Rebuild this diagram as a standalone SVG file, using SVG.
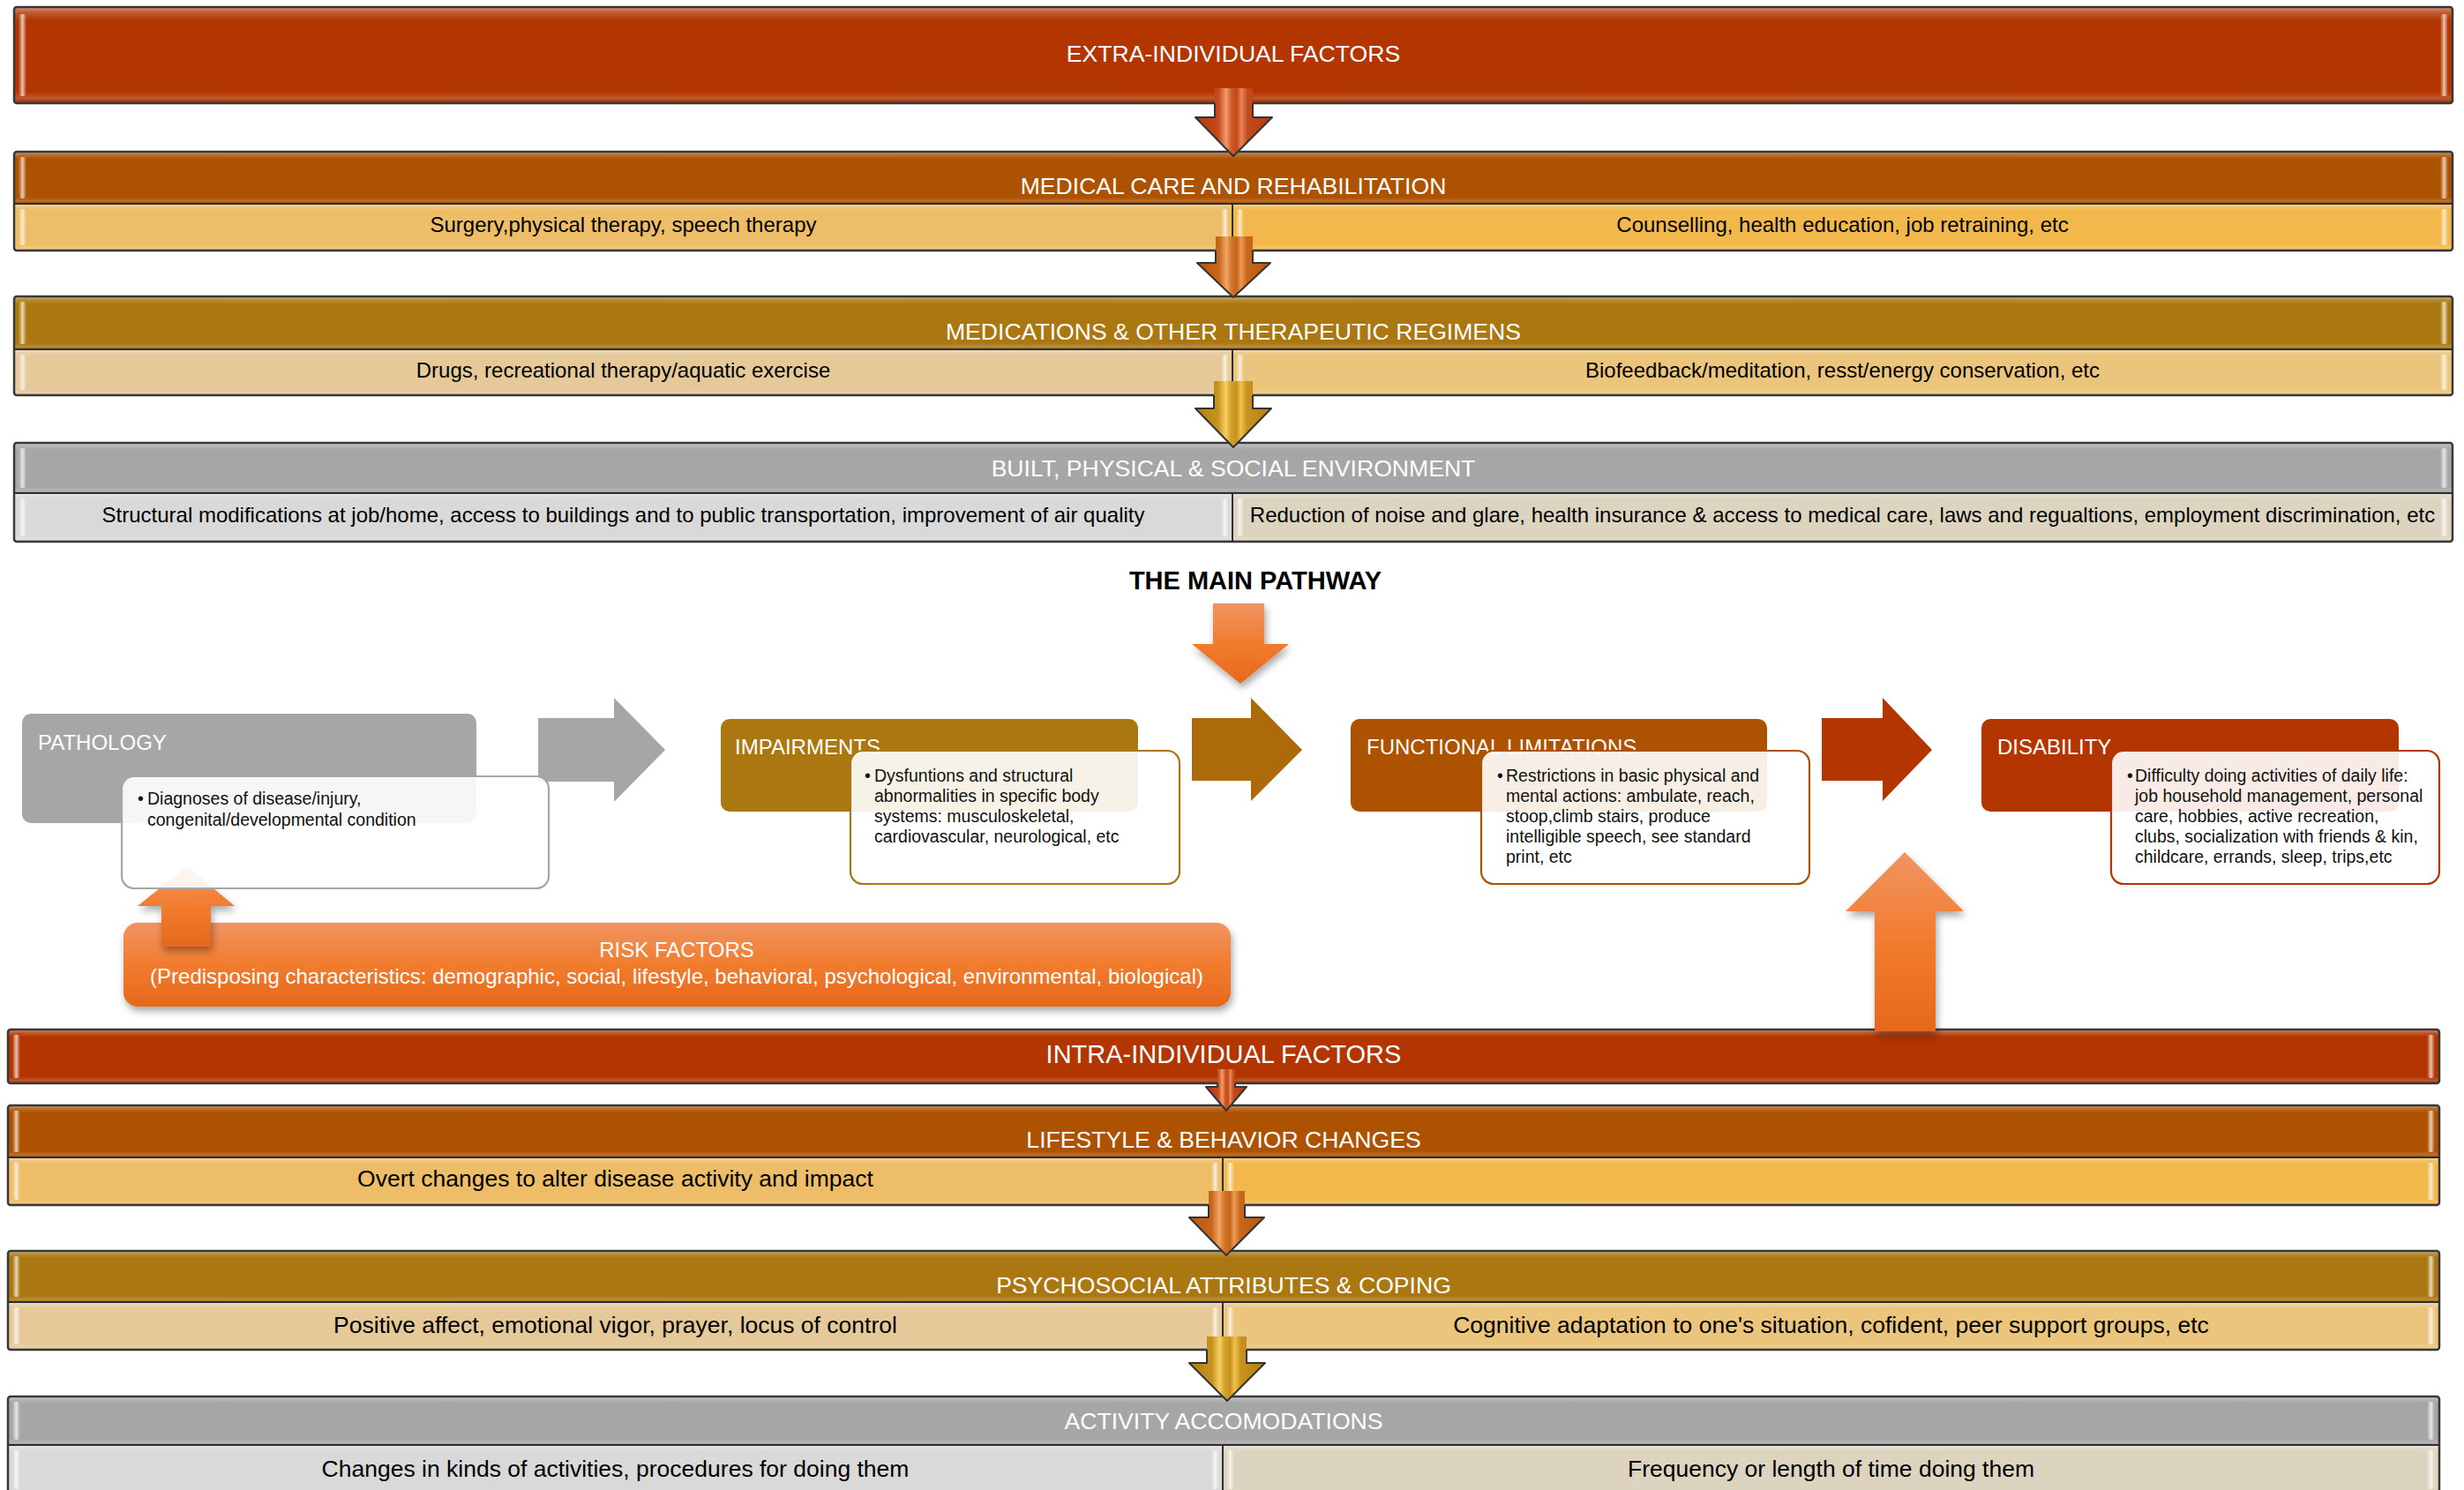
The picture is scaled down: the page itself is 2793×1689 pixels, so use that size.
<svg xmlns="http://www.w3.org/2000/svg" width="2793" height="1689" viewBox="0 0 2793 1689">
<defs>
<style>
.hdr{font-family:"Liberation Sans",Arial,sans-serif;fill:#fff;text-anchor:middle;font-size:26.6px}
.sub{font-family:"Liberation Sans",Arial,sans-serif;fill:#000;text-anchor:middle;font-size:24px}
.subB{font-family:"Liberation Sans",Arial,sans-serif;fill:#000;text-anchor:middle;font-size:26.5px}
.frame{fill:none;stroke:#383838;stroke-width:2.5}
.sep{stroke:#2e2e2e;stroke-width:2;fill:none}
.gl{fill:url(#gloss)}
.edge{fill:url(#edgeG)}
.lbl{font-family:"Liberation Sans",Arial,sans-serif;fill:#fff;font-size:24px}
.det{font-family:"Liberation Sans",Arial,sans-serif;fill:#111;font-size:19.5px}
.detbox{fill:#fff;fill-opacity:0.9;stroke-width:2.2}
.arrowline{fill:none;stroke:#333;stroke-width:2;stroke-linejoin:round}
.risk{font-family:"Liberation Sans",Arial,sans-serif;fill:#fff;text-anchor:middle;font-size:24px}
</style>
<linearGradient id="gloss" x1="0" y1="0" x2="0" y2="1">
<stop offset="0" stop-color="#fff" stop-opacity="0.45"/>
<stop offset="0.06" stop-color="#fff" stop-opacity="0.18"/>
<stop offset="0.14" stop-color="#fff" stop-opacity="0"/>
<stop offset="0.88" stop-color="#fff" stop-opacity="0"/>
<stop offset="0.95" stop-color="#fff" stop-opacity="0.18"/>
<stop offset="1" stop-color="#000" stop-opacity="0.15"/>
</linearGradient>
<linearGradient id="edgeG" x1="0" y1="0" x2="1" y2="0">
<stop offset="0" stop-color="#fff" stop-opacity="0"/>
<stop offset="0.5" stop-color="#fff" stop-opacity="0.7"/>
<stop offset="1" stop-color="#fff" stop-opacity="0"/>
</linearGradient>
<linearGradient id="arRed" x1="0" y1="0" x2="1" y2="0">
<stop offset="0" stop-color="#B23A10"/>
<stop offset="0.3" stop-color="#C44A1A"/>
<stop offset="0.4" stop-color="#F09A70"/>
<stop offset="0.47" stop-color="#D05A28"/>
<stop offset="0.54" stop-color="#C4481A"/>
<stop offset="0.6" stop-color="#E8875A"/>
<stop offset="0.68" stop-color="#C24A1C"/>
<stop offset="1" stop-color="#B23A10"/>
</linearGradient>
<linearGradient id="arOr" x1="0" y1="0" x2="1" y2="0">
<stop offset="0" stop-color="#B8560E"/>
<stop offset="0.3" stop-color="#C8661A"/>
<stop offset="0.4" stop-color="#F2A766"/>
<stop offset="0.47" stop-color="#D2752A"/>
<stop offset="0.54" stop-color="#C6651A"/>
<stop offset="0.6" stop-color="#EC9A55"/>
<stop offset="0.68" stop-color="#C8661A"/>
<stop offset="1" stop-color="#B8560E"/>
</linearGradient>
<linearGradient id="arGd" x1="0" y1="0" x2="1" y2="0">
<stop offset="0" stop-color="#B07E12"/>
<stop offset="0.3" stop-color="#C8921E"/>
<stop offset="0.4" stop-color="#F6D060"/>
<stop offset="0.47" stop-color="#D49F2A"/>
<stop offset="0.54" stop-color="#C8921E"/>
<stop offset="0.6" stop-color="#F0C24E"/>
<stop offset="0.68" stop-color="#C8921E"/>
<stop offset="1" stop-color="#B07E12"/>
</linearGradient>
<linearGradient id="orV" x1="0" y1="0" x2="0" y2="1">
<stop offset="0" stop-color="#F09462"/>
<stop offset="0.5" stop-color="#F27C2E"/>
<stop offset="1" stop-color="#E6681C"/>
</linearGradient>
<filter id="sh" x="-20%" y="-20%" width="140%" height="150%">
<feDropShadow dx="2" dy="5" stdDeviation="4" flood-color="#000" flood-opacity="0.35"/>
</filter>
</defs>
<rect width="2793" height="1689" fill="#fff"/>

<!-- ===== TOP BARS ===== -->
<g id="extra-individual">
<rect x="16" y="8" width="2764" height="109" fill="#B33500"/>
<rect x="16" y="8" width="2764" height="109" class="gl"/>
<rect x="21" y="16" width="9" height="93" rx="4" class="edge"/>
<rect x="2766" y="16" width="9" height="93" rx="4" class="edge"/>
<rect x="16" y="8" width="2764" height="109" rx="3" class="frame"/>
<text class="hdr" x="1398" y="70">EXTRA-INDIVIDUAL FACTORS</text>
</g>

<g id="medical-care">
<rect x="16" y="172" width="2764" height="59" fill="#AD5200"/>
<rect x="16" y="231" width="1381" height="53" fill="#EEBD67"/>
<rect x="1397" y="231" width="1383" height="53" fill="#F2B84B"/>
<rect x="16" y="172" width="2764" height="59" class="gl"/>
<rect x="16" y="231" width="1381" height="53" class="gl"/>
<rect x="1397" y="231" width="1383" height="53" class="gl"/>
<rect x="21" y="178" width="9" height="47" rx="4" class="edge"/>
<rect x="2766" y="178" width="9" height="47" rx="4" class="edge"/>
<rect x="21" y="237" width="9" height="41" rx="4" class="edge"/>
<rect x="1384" y="237" width="9" height="41" rx="4" class="edge"/>
<rect x="1401" y="237" width="9" height="41" rx="4" class="edge"/>
<rect x="2766" y="237" width="9" height="41" rx="4" class="edge"/>
<rect x="16" y="172" width="2764" height="112" rx="3" class="frame"/>
<path class="sep" d="M16 231H2780M1397 231V284"/>
<text class="hdr" x="1398" y="220">MEDICAL CARE AND REHABILITATION</text>
<text class="sub" x="706.5" y="263">Surgery,physical therapy, speech therapy</text>
<text class="sub" x="2088.5" y="263">Counselling, health education, job retraining, etc</text>
</g>

<g id="medications">
<rect x="16" y="336" width="2764" height="60" fill="#AB7710"/>
<rect x="16" y="396" width="1381" height="52" fill="#E5C998"/>
<rect x="1397" y="396" width="1383" height="52" fill="#EBC57C"/>
<rect x="16" y="336" width="2764" height="60" class="gl"/>
<rect x="16" y="396" width="1381" height="52" class="gl"/>
<rect x="1397" y="396" width="1383" height="52" class="gl"/>
<rect x="21" y="342" width="9" height="48" rx="4" class="edge"/>
<rect x="2766" y="342" width="9" height="48" rx="4" class="edge"/>
<rect x="21" y="402" width="9" height="40" rx="4" class="edge"/>
<rect x="1384" y="402" width="9" height="40" rx="4" class="edge"/>
<rect x="1401" y="402" width="9" height="40" rx="4" class="edge"/>
<rect x="2766" y="402" width="9" height="40" rx="4" class="edge"/>
<rect x="16" y="336" width="2764" height="112" rx="3" class="frame"/>
<path class="sep" d="M16 396H2780M1397 396V448"/>
<text class="hdr" x="1398" y="385">MEDICATIONS &amp; OTHER THERAPEUTIC REGIMENS</text>
<text class="sub" x="706.5" y="428">Drugs, recreational therapy/aquatic exercise</text>
<text class="sub" x="2088.5" y="428">Biofeedback/meditation, resst/energy conservation, etc</text>
</g>

<g id="built-environment">
<rect x="16" y="502" width="2764" height="57" fill="#A6A6A6"/>
<rect x="16" y="559" width="1381" height="55" fill="#D9D9D9"/>
<rect x="1397" y="559" width="1383" height="55" fill="#DDD4C0"/>
<rect x="16" y="502" width="2764" height="57" class="gl"/>
<rect x="16" y="559" width="1381" height="55" class="gl"/>
<rect x="1397" y="559" width="1383" height="55" class="gl"/>
<rect x="21" y="508" width="9" height="45" rx="4" class="edge"/>
<rect x="2766" y="508" width="9" height="45" rx="4" class="edge"/>
<rect x="21" y="565" width="9" height="43" rx="4" class="edge"/>
<rect x="1384" y="565" width="9" height="43" rx="4" class="edge"/>
<rect x="1401" y="565" width="9" height="43" rx="4" class="edge"/>
<rect x="2766" y="565" width="9" height="43" rx="4" class="edge"/>
<rect x="16" y="502" width="2764" height="112" rx="3" class="frame"/>
<path class="sep" d="M16 559H2780M1397 559V614"/>
<text class="hdr" x="1398" y="540">BUILT, PHYSICAL &amp; SOCIAL ENVIRONMENT</text>
<text class="sub" x="706.5" y="592">Structural modifications at job/home, access to buildings and to public transportation, improvement of air quality</text>
<text class="sub" x="2088.5" y="592">Reduction of noise and glare, health insurance &amp; access to medical care, laws and regualtions, employment discrimination, etc</text>
</g>

<!-- ===== BOTTOM BARS ===== -->
<g id="intra-individual">
<rect x="9" y="1167" width="2756" height="61" fill="#B33500"/>
<rect x="9" y="1167" width="2756" height="61" class="gl"/>
<rect x="14" y="1173" width="9" height="49" rx="4" class="edge"/>
<rect x="2751" y="1173" width="9" height="49" rx="4" class="edge"/>
<rect x="9" y="1167" width="2756" height="61" rx="3" class="frame"/>
<text class="hdr" x="1387" y="1205" style="font-size:29px">INTRA-INDIVIDUAL FACTORS</text>
</g>

<g id="lifestyle">
<rect x="9" y="1253" width="2756" height="59" fill="#AD5200"/>
<rect x="9" y="1312" width="1377" height="54" fill="#EEBD67"/>
<rect x="1386" y="1312" width="1379" height="54" fill="#F2B84B"/>
<rect x="9" y="1253" width="2756" height="59" class="gl"/>
<rect x="9" y="1312" width="1377" height="54" class="gl"/>
<rect x="1386" y="1312" width="1379" height="54" class="gl"/>
<rect x="14" y="1259" width="9" height="47" rx="4" class="edge"/>
<rect x="2751" y="1259" width="9" height="47" rx="4" class="edge"/>
<rect x="14" y="1318" width="9" height="42" rx="4" class="edge"/>
<rect x="1373" y="1318" width="9" height="42" rx="4" class="edge"/>
<rect x="1390" y="1318" width="9" height="42" rx="4" class="edge"/>
<rect x="2751" y="1318" width="9" height="42" rx="4" class="edge"/>
<rect x="9" y="1253" width="2756" height="113" rx="3" class="frame"/>
<path class="sep" d="M9 1312H2765M1386 1312V1366"/>
<text class="hdr" x="1387" y="1301">LIFESTYLE &amp; BEHAVIOR CHANGES</text>
<text class="subB" x="697.5" y="1345">Overt changes to alter disease activity and impact</text>
</g>

<g id="psychosocial">
<rect x="9" y="1418" width="2756" height="58" fill="#AB7710"/>
<rect x="9" y="1476" width="1377" height="54" fill="#E5C998"/>
<rect x="1386" y="1476" width="1379" height="54" fill="#EBC57C"/>
<rect x="9" y="1418" width="2756" height="58" class="gl"/>
<rect x="9" y="1476" width="1377" height="54" class="gl"/>
<rect x="1386" y="1476" width="1379" height="54" class="gl"/>
<rect x="14" y="1424" width="9" height="46" rx="4" class="edge"/>
<rect x="2751" y="1424" width="9" height="46" rx="4" class="edge"/>
<rect x="14" y="1482" width="9" height="42" rx="4" class="edge"/>
<rect x="1373" y="1482" width="9" height="42" rx="4" class="edge"/>
<rect x="1390" y="1482" width="9" height="42" rx="4" class="edge"/>
<rect x="2751" y="1482" width="9" height="42" rx="4" class="edge"/>
<rect x="9" y="1418" width="2756" height="112" rx="3" class="frame"/>
<path class="sep" d="M9 1476H2765M1386 1476V1530"/>
<text class="hdr" x="1387" y="1466">PSYCHOSOCIAL ATTRIBUTES &amp; COPING</text>
<text class="subB" x="697.5" y="1511">Positive affect, emotional vigor, prayer, locus of control</text>
<text class="subB" x="2075.5" y="1511">Cognitive adaptation to one's situation, cofident, peer support groups, etc</text>
</g>

<g id="activity-accomodations">
<rect x="9" y="1583" width="2756" height="55" fill="#A6A6A6"/>
<rect x="9" y="1638" width="1377" height="62" fill="#D9D9D9"/>
<rect x="1386" y="1638" width="1379" height="62" fill="#DDD4C0"/>
<rect x="9" y="1583" width="2756" height="55" class="gl"/>
<rect x="9" y="1638" width="1377" height="62" class="gl"/>
<rect x="1386" y="1638" width="1379" height="62" class="gl"/>
<rect x="14" y="1589" width="9" height="43" rx="4" class="edge"/>
<rect x="2751" y="1589" width="9" height="43" rx="4" class="edge"/>
<rect x="14" y="1644" width="9" height="44" rx="4" class="edge"/>
<rect x="1373" y="1644" width="9" height="44" rx="4" class="edge"/>
<rect x="1390" y="1644" width="9" height="44" rx="4" class="edge"/>
<rect x="2751" y="1644" width="9" height="44" rx="4" class="edge"/>
<rect x="9" y="1583" width="2756" height="117" rx="3" class="frame"/>
<path class="sep" d="M9 1638H2765M1386 1638V1700"/>
<text class="hdr" x="1387" y="1620">ACTIVITY ACCOMODATIONS</text>
<text class="subB" x="697.5" y="1674">Changes in kinds of activities, procedures for doing them</text>
<text class="subB" x="2075.5" y="1674">Frequency or length of time doing them</text>
</g>

<!-- ===== MAIN PATHWAY ===== -->
<text id="main-pathway-title" x="1423" y="668" text-anchor="middle" style="font-family:'Liberation Sans',Arial,sans-serif;font-weight:bold;font-size:29px;fill:#000">THE MAIN PATHWAY</text>

<g id="risk-factors">
<rect x="140" y="1046" width="1255" height="95" rx="16" fill="url(#orV)" filter="url(#sh)"/>
<text class="risk" x="767" y="1085">RISK FACTORS</text>
<text class="risk" x="767" y="1115">(Predisposing characteristics: demographic, social, lifestyle, behavioral, psychological, environmental, biological)</text>
</g>

<g id="pathology">
<rect x="25" y="809" width="515" height="124" rx="10" fill="#A6A6A6"/>
<text class="lbl" x="43" y="850">PATHOLOGY</text>
</g>

<g id="impairments">
<rect x="817" y="815" width="473" height="105" rx="10" fill="#AB7710"/>
<text class="lbl" x="833" y="855">IMPAIRMENTS</text>
<rect x="964" y="851" width="373" height="151" rx="14" class="detbox" stroke="#AB7710"/>
<text class="det"><tspan x="980" y="886">•</tspan><tspan x="991" y="886">Dysfuntions and structural</tspan><tspan x="991" y="909">abnormalities in specific body</tspan><tspan x="991" y="932">systems: musculoskeletal,</tspan><tspan x="991" y="955">cardiovascular, neurological, etc</tspan></text>
</g>

<g id="functional-limitations">
<rect x="1531" y="815" width="472" height="105" rx="10" fill="#AD5200"/>
<text class="lbl" x="1549" y="855">FUNCTIONAL LIMITATIONS</text>
<rect x="1679" y="851" width="372" height="151" rx="14" class="detbox" stroke="#AD5200"/>
<text class="det"><tspan x="1697" y="886">•</tspan><tspan x="1707" y="886">Restrictions in basic physical and</tspan><tspan x="1707" y="909">mental actions: ambulate, reach,</tspan><tspan x="1707" y="932">stoop,climb stairs, produce</tspan><tspan x="1707" y="955">intelligible speech, see standard</tspan><tspan x="1707" y="978">print, etc</tspan></text>
</g>

<g id="disability">
<rect x="2246" y="815" width="473" height="105" rx="10" fill="#B33500"/>
<text class="lbl" x="2264" y="855">DISABILITY</text>
<rect x="2393" y="851" width="372" height="151" rx="14" class="detbox" stroke="#B33500"/>
<text class="det"><tspan x="2411" y="886">•</tspan><tspan x="2420" y="886">Difficulty doing activities of daily life:</tspan><tspan x="2420" y="909">job household management, personal</tspan><tspan x="2420" y="932">care, hobbies, active recreation,</tspan><tspan x="2420" y="955">clubs, socialization with friends &amp; kin,</tspan><tspan x="2420" y="978">childcare, errands, sleep, trips,etc</tspan></text>
</g>

<!-- ===== CONNECTORS ===== -->
<g id="connectors">
<path d="M1377 100H1420V133H1442L1398 177L1355 133H1377Z" fill="url(#arRed)"/>
<path class="arrowline" d="M1377 117V133H1355L1398 177L1442 133H1420V117"/>
<path d="M1378 268H1420V298H1440L1398 337L1357 298H1378Z" fill="url(#arOr)"/>
<path class="arrowline" d="M1378 284V298H1357L1398 337L1440 298H1420V284"/>
<path d="M1376 432H1420V463H1441L1398 507L1355 463H1376Z" fill="url(#arGd)"/>
<path class="arrowline" d="M1376 448V463H1355L1398 507L1441 463H1420V448"/>
<path d="M1380 1212H1400V1232H1413L1390 1259L1367 1232H1380Z" fill="url(#arRed)"/>
<path class="arrowline" d="M1380 1228V1232H1367L1390 1259L1413 1232H1400V1228"/>
<path d="M1370 1350H1411V1380H1433L1390 1423L1348 1380H1370Z" fill="url(#arOr)"/>
<path class="arrowline" d="M1370 1366V1380H1348L1390 1423L1433 1380H1411V1366"/>
<path d="M1368 1515H1413V1545H1434L1391 1588L1348 1545H1368Z" fill="url(#arGd)"/>
<path class="arrowline" d="M1368 1530V1545H1348L1391 1588L1434 1545H1413V1530"/>
<path d="M1375 684H1433V730H1461L1406 775L1351 730H1375Z" fill="url(#orV)" filter="url(#sh)"/>
<path d="M610 814H696V791L754 850L696 909V886H610Z" fill="#A6A6A6"/>
<path d="M1351 814H1418V791L1476 850L1418 908V885H1351Z" fill="#AD6A0A"/>
<path d="M2065 814H2134V791L2190 850L2134 908V885H2065Z" fill="#B33500"/>
<path d="M2125 1169V1033H2092L2159 966L2226 1033H2194V1169Z" fill="url(#orV)" filter="url(#sh)"/>
<path d="M183 1073V1027H156L212 982L266 1027H239V1073Z" fill="url(#orV)" filter="url(#sh)"/>
</g>

<g id="pathology-detail">
<rect x="138" y="880" width="484" height="127" rx="14" class="detbox" stroke="#A6A6A6"/>
<text class="det"><tspan x="156" y="912">•</tspan><tspan x="167" y="912">Diagnoses of disease/injury,</tspan><tspan x="167" y="936">congenital/developmental condition</tspan></text>
</g>
</svg>
